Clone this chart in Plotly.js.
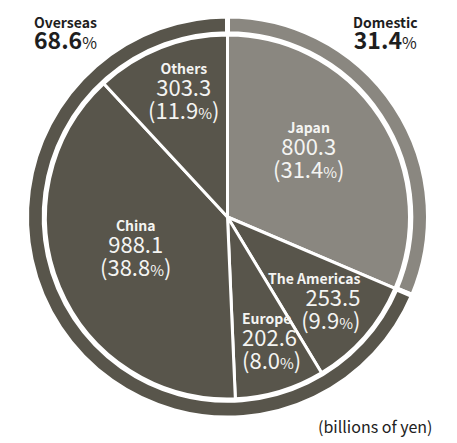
<!DOCTYPE html>
<html>
<head>
<meta charset="utf-8">
<script src="https://cdn.plot.ly/plotly-3.0.1.min.js"></script>
<style>
html,body{margin:0;padding:0;background:#fff;}
#chart{width:457px;height:443px;}
</style>
</head>
<body>
<div id="chart"></div>
<script>
// ---- data ----
var regions = ['Japan', 'The Americas', 'Europe', 'China', 'Others'];
var regionValues = [800.3, 253.5, 202.6, 988.1, 303.3];
var regionPcts = [31.4, 9.9, 8.0, 38.8, 11.9];
var groups = ['Domestic', 'Overseas'];
var groupPcts = [31.4, 68.6];
var unitLabel = '(billions of yen)';

// ---- styling / layout ----
var W = 457, H = 443;
var DARK = '#58554b', LIGHT = '#8a8780';
var FONT = '"Noto Sans CJK JP", "Noto Sans", sans-serif';
var cx = 227.5, cy = 217, rOuter = 201, rInner = 182;

function dom(r) {
  return {
    x: [(cx - r) / W, (cx + r) / W],
    y: [(H - cy - r) / H, (H - cy + r) / H]
  };
}

var regionColors = [LIGHT, DARK, DARK, DARK, DARK];
var groupColors = [LIGHT, DARK];

var outer = {
  type: 'pie', labels: groups, values: groupPcts, sort: false,
  direction: 'clockwise', rotation: 0, hole: 0.912,
  domain: dom(rOuter), textinfo: 'none', hoverinfo: 'none',
  marker: {colors: groupColors, line: {color: '#ffffff', width: 5}}
};
var inner = {
  type: 'pie', labels: regions, values: regionValues, sort: false,
  direction: 'clockwise', rotation: 0,
  domain: dom(rInner), textinfo: 'none', hoverinfo: 'none',
  marker: {colors: regionColors, line: {color: '#ffffff', width: 3}}
};

// label block anchor positions (pixels from top-left) and alignment
var labelPos = {
  'Japan':        {x: 308, y: 150, anchor: 'center'},
  'The Americas': {x: 362, y: 301, anchor: 'right'},
  'Europe':       {x: 240, y: 341, anchor: 'left'},
  'China':        {x: 135, y: 248, anchor: 'center'},
  'Others':       {x: 183, y: 91, anchor: 'center'}
};
var groupPos = {
  'Domestic': {x: 385, y: 34},
  'Overseas': {x: 65.5, y: 34}
};

var annotations = [];
var IN = '#f4f4f2', OUT = '#1e1e1e';
regions.forEach(function (name, i) {
  var p = labelPos[name];
  annotations.push({
    xref: 'paper', yref: 'paper', x: p.x / W, y: 1 - p.y / H,
    xanchor: p.anchor, yanchor: 'middle', align: p.anchor, showarrow: false,
    text: '<span style="font-size:14px;font-weight:bold">' + name + '</span><br>' +
          '<span style="font-size:22px">' + regionValues[i].toFixed(1) + '</span><br>' +
          '<span style="font-size:22px">(' + regionPcts[i].toFixed(1) +
          '<span style="font-size:15px">%</span>)</span>',
    font: {family: FONT, size: 17.3, color: IN}
  });
});
groups.forEach(function (name, i) {
  var p = groupPos[name];
  annotations.push({
    xref: 'paper', yref: 'paper', x: p.x / W, y: 1 - p.y / H,
    xanchor: 'center', yanchor: 'middle', align: 'center', showarrow: false,
    text: '<span style="font-size:14px;font-weight:bold">' + name + '</span><br>' +
          '<span style="font-size:23px;font-weight:bold">' + groupPcts[i].toFixed(1) + '</span>' +
          '<span style="font-size:16px">%</span>',
    font: {family: FONT, size: 16, color: OUT}
  });
});
annotations.push({
  xref: 'paper', yref: 'paper', x: 435 / W, y: 1 - 426 / H,
  xanchor: 'right', yanchor: 'middle', showarrow: false, text: unitLabel,
  font: {family: FONT, size: 16, color: '#222222'}
});

var layout = {
  width: W, height: H, margin: {l: 0, r: 0, t: 0, b: 0},
  paper_bgcolor: '#ffffff', plot_bgcolor: '#ffffff',
  showlegend: false, annotations: annotations
};

Plotly.newPlot('chart', [outer, inner], layout, {displayModeBar: false, staticPlot: true});
</script>
</body>
</html>
